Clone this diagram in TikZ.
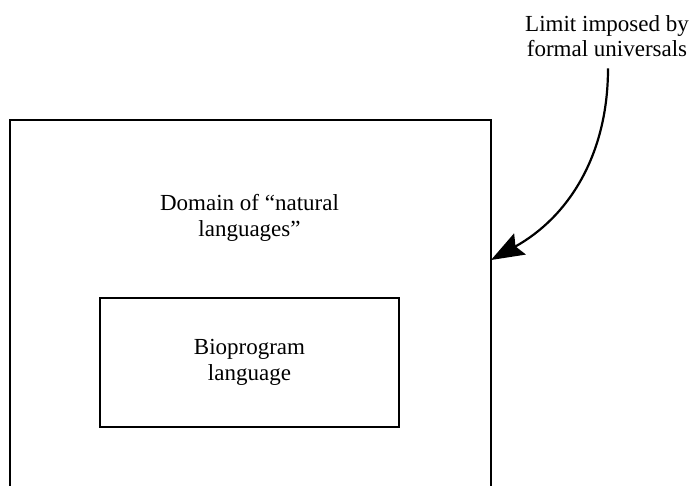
\documentclass[tikz,border=0pt]{standalone}
\usepackage{fontspec}
\setmainfont{Liberation Serif}
\usetikzlibrary{arrows.meta,positioning}

\begin{document}
\begin{tikzpicture}[x=1pt,y=-1pt,
  box/.style={rectangle, draw, line width=1.5pt, inner sep=0pt},
  txt/.style={align=center, font=\fontsize{23}{25.5}\selectfont}]
\clip (0,0) rectangle (693,485);
% Dominio
\node[box, minimum width=481, minimum height=420, anchor=north west] (domain) at (9,119) {};
\node[txt] (domtxt) at (249.5,218) {Domain of “natural\\languages”};

% Bioprogramma
\node[box, minimum width=299, minimum height=129] (bio) at (249.5,362.5) {};
\node[txt] at (bio.center) {Bioprogram\\language};

% Limite
\node[txt] (limit) at (607,36) {Limit imposed by\\formal universals};
\coordinate (tip) at (491,260);
\draw[line width=2.2pt, -{Stealth[length=33pt, width=24pt, inset=5pt]}]
  (limit.south) ++(1,8) to[out=-90, in=29] (tip);
\end{tikzpicture}
\end{document}
